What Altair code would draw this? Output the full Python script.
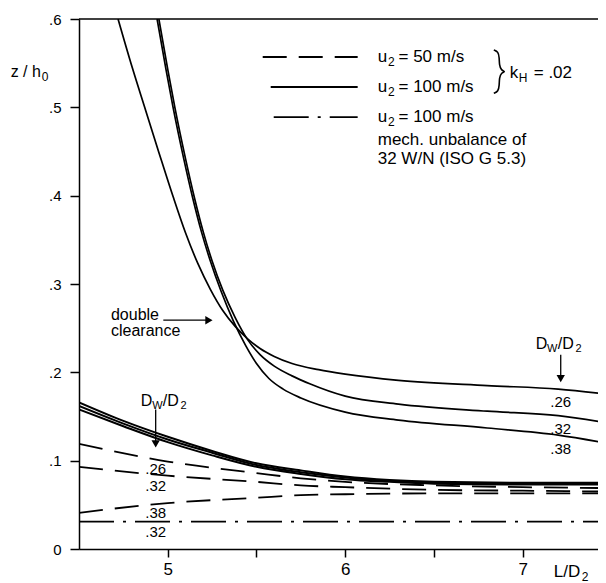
import altair as alt
import pandas as pd

FONT = "Liberation Sans"
X_MIN, X_MAX = 4.5, 7.424

# ---- upper solid curves (double clearance), D_W/D_2 = .26 / .32 / .38
up26_x = [4.72, 4.80, 4.87, 4.95, 5.03, 5.10, 5.17, 5.24, 5.31, 5.38, 5.45, 5.52, 5.60, 5.70, 5.85, 6.0, 6.3, 6.8, 7.2, 7.47]
up26_z = [0.600, 0.545, 0.500, 0.449, 0.399, 0.358, 0.323, 0.294, 0.270, 0.252, 0.238, 0.227, 0.218, 0.210, 0.203, 0.198, 0.191, 0.185, 0.181, 0.1755]
up32_x = [4.95, 5.00, 5.04, 5.10, 5.15, 5.20, 5.25, 5.31, 5.38, 5.45, 5.52, 5.60, 5.70, 5.80, 6.0, 6.3, 6.8, 7.2, 7.47]
up32_z = [0.600, 0.543, 0.500, 0.442, 0.398, 0.359, 0.326, 0.293, 0.262, 0.237, 0.220, 0.207, 0.196, 0.187, 0.173, 0.164, 0.156, 0.151, 0.143]
up38_x = [4.94, 4.99, 5.03, 5.09, 5.14, 5.19, 5.24, 5.30, 5.37, 5.44, 5.50, 5.57, 5.65, 5.75, 6.0, 6.3, 6.8, 7.2, 7.47]
up38_z = [0.600, 0.543, 0.500, 0.442, 0.398, 0.359, 0.326, 0.292, 0.258, 0.230, 0.210, 0.193, 0.181, 0.171, 0.155, 0.146, 0.137, 0.129, 0.120]

# ---- lower solid curves, u2 = 100 m/s
lo_x = [4.5, 4.75, 5.0, 5.25, 5.5, 5.75, 6.0, 6.25, 6.5, 7.0, 7.47]
lo26_z = [0.166, 0.145, 0.127, 0.111, 0.097, 0.089, 0.082, 0.078, 0.076, 0.075, 0.075]
lo32_z = [0.162, 0.142, 0.124, 0.109, 0.095, 0.087, 0.081, 0.077, 0.075, 0.074, 0.074]
lo38_z = [0.158, 0.139, 0.121, 0.106, 0.093, 0.085, 0.079, 0.076, 0.074, 0.073, 0.073]

# ---- dashed curves, u2 = 50 m/s
da_x = [4.5, 5.0, 5.5, 5.75, 6.0, 6.5, 7.0, 7.47]
da26_z = [0.119, 0.099, 0.086, 0.080, 0.076, 0.072, 0.070, 0.069]
da32_z = [0.093, 0.083, 0.076, 0.072, 0.070, 0.067, 0.066, 0.065]
da38_z = [0.041, 0.052, 0.058, 0.061, 0.062, 0.063, 0.063, 0.063]

# ---- dash-dot, mechanical unbalance
dd_x = [4.5, 7.47]
dd_z = [0.031, 0.031]

# ---- legend sample lines
leg_dash_x, leg_dash_z = [5.535, 6.07], [0.557, 0.557]
leg_solid_x, leg_solid_z = [5.58, 6.07], [0.523, 0.523]
leg_dd_x, leg_dd_z = [5.597, 6.07], [0.489, 0.489]

# ---- curly brace grouping the first two legend entries
brace_x = [6.837, 6.862, 6.868, 6.868, 6.878, 6.905, 6.878, 6.868, 6.868, 6.862, 6.837]
brace_z = [0.565, 0.563, 0.556, 0.548, 0.542, 0.5405, 0.539, 0.533, 0.525, 0.518, 0.516]

y_ticks = [0, 0.1, 0.2, 0.3, 0.4, 0.5, 0.6]
x_ticks = [5, 5.5, 6, 6.5, 7]

# ---- text annotations (data coordinates): x, z, text, size
txt_left = [
    (6.183, 0.557, "u", 17), (6.241, 0.551, "2", 12), (6.300, 0.557, "=  50 m/s", 17),
    (6.183, 0.523, "u", 17), (6.241, 0.517, "2", 12), (6.300, 0.523, "= 100 m/s", 17),
    (6.183, 0.489, "u", 17), (6.241, 0.483, "2", 12), (6.300, 0.489, "= 100 m/s", 17),
    (6.183, 0.463, "mech. unbalance of", 17),
    (6.183, 0.442, "32 W/N (ISO G 5.3)", 17),
    (6.927, 0.539, "k", 17), (6.977, 0.533, "H", 12), (7.062, 0.539, "= .02", 17),
    (4.115, 0.540, "z / h", 16), (4.290, 0.534, "0", 12),
    (7.175, -0.026, "L/D", 17), (7.333, -0.032, "2", 12),
    (4.68, 0.265, "double", 16), (4.68, 0.247, "clearance", 16),
    (4.848, 0.168, "D", 16), (4.912, 0.162, "W", 11), (4.972, 0.168, "/D", 16), (5.072, 0.162, "2", 11),
    (7.073, 0.232, "D", 16), (7.137, 0.226, "W", 11), (7.197, 0.232, "/D", 16), (7.297, 0.226, "2", 11),
]
txt_center = [
    (4.932, 0.091, ".26", 15), (4.932, 0.071, ".32", 15), (4.932, 0.041, ".38", 15), (4.932, 0.019, ".32", 15),
    (7.214, 0.166, ".26", 15), (7.214, 0.136, ".32", 15), (7.214, 0.113, ".38", 15),
]

# arrows: x, z_start, x2, z_end
arrow_v = [(4.932, 0.158, 4.932, 0.122), (7.214, 0.220, 7.214, 0.195)]
arrow_h = [(4.975, 0.259, 5.22, 0.259)]
head_down = [(4.932, 0.119), (7.214, 0.193)]
head_right = [(5.232, 0.259)]


def series(name, xs, zs):
    return pd.DataFrame({"x": xs, "z": zs, "s": name})


xs = alt.Scale(domain=[X_MIN, X_MAX], nice=False, zero=False)
ys = alt.Scale(domain=[0, 0.6], nice=False, zero=True)

x_enc = alt.X("x:Q", scale=xs, axis=alt.Axis(
    values=x_ticks, title=None, tickSize=8, labelPadding=4, labelFontSize=17,
    labelExpr="round(datum.value) == datum.value ? toString(datum.value) : ''"))
y_enc = alt.Y("z:Q", scale=ys, axis=alt.Axis(
    values=y_ticks, title=None, tickSize=9, labelPadding=9, labelFontSize=15,
    labelExpr="datum.value == 0 ? '0' : '.' + round(datum.value * 10)"))

solid_up = pd.concat([series("u26", up26_x, up26_z), series("u32", up32_x, up32_z),
                      series("u38", up38_x, up38_z)])
solid_lo = pd.concat([series("l26", lo_x, lo26_z), series("l32", lo_x, lo32_z),
                      series("l38", lo_x, lo38_z), series("leg", leg_solid_x, leg_solid_z)])
dashed = pd.concat([series("d26", da_x, da26_z), series("d32", da_x, da32_z),
                    series("d38", da_x, da38_z), series("leg", leg_dash_x, leg_dash_z)])
dashdot = pd.concat([series("dd", dd_x, dd_z), series("leg", leg_dd_x, leg_dd_z)])
brace_df = pd.DataFrame({"x": brace_x, "z": brace_z, "o": list(range(len(brace_x)))})

l_up = alt.Chart(solid_up).mark_line(color="black", strokeWidth=1.7, interpolate="monotone", clip=True).encode(
    x=x_enc, y=y_enc, detail="s:N")
l_lo = alt.Chart(solid_lo).mark_line(color="black", strokeWidth=2, interpolate="monotone", clip=True).encode(
    x="x:Q", y="z:Q", detail="s:N")
l_da = alt.Chart(dashed).mark_line(color="black", strokeWidth=1.8, strokeDash=[24, 12], interpolate="monotone", clip=True).encode(
    x="x:Q", y="z:Q", detail="s:N")
l_dd = alt.Chart(dashdot).mark_line(color="black", strokeWidth=1.8, strokeDash=[35, 9, 3, 9], clip=True).encode(
    x="x:Q", y="z:Q", detail="s:N")
l_brace = alt.Chart(brace_df).mark_line(color="black", strokeWidth=1.6, interpolate="basis").encode(
    x="x:Q", y="z:Q", order="o:Q")

top_rule = alt.Chart(pd.DataFrame({"z": [0.6]})).mark_rule(color="black", strokeWidth=1.5).encode(y="z:Q")


def tdf(rows):
    return pd.DataFrame(rows, columns=["x", "z", "t", "fs"])


t_left = alt.Chart(tdf(txt_left)).mark_text(align="left", baseline="middle", font=FONT, color="black").encode(
    x="x:Q", y="z:Q", text="t:N", size=alt.Size("fs:Q", scale=None, legend=None))
t_center = alt.Chart(tdf(txt_center)).mark_text(align="center", baseline="middle", font=FONT, color="black").encode(
    x="x:Q", y="z:Q", text="t:N", size=alt.Size("fs:Q", scale=None, legend=None))

arr_df = pd.DataFrame(arrow_v + arrow_h, columns=["x", "z", "x2", "z2"])
arrows = alt.Chart(arr_df).mark_rule(color="black", strokeWidth=1.3).encode(
    x="x:Q", y="z:Q", x2="x2:Q", y2="z2:Q")
hd = alt.Chart(pd.DataFrame(head_down, columns=["x", "z"])).mark_point(
    shape="triangle-down", filled=True, color="black", size=70, opacity=1).encode(x="x:Q", y="z:Q")
hr = alt.Chart(pd.DataFrame(head_right, columns=["x", "z"])).mark_point(
    shape="triangle-right", filled=True, color="black", size=70, opacity=1).encode(x="x:Q", y="z:Q")

chart = alt.layer(l_up, l_lo, l_da, l_dd, l_brace, top_rule, arrows, hd, hr, t_left, t_center).properties(
    width=519, height=530,
    autosize=alt.AutoSizeParams(type="none"),
    padding={"left": 71, "top": 11, "right": 0, "bottom": 34},
).configure_view(stroke=None).configure_axis(
    domainColor="black", domainWidth=1.5, tickColor="black", tickWidth=1.5,
    labelColor="black", labelFont=FONT, grid=False,
)

chart.save("out.html", embed_options={"renderer": "svg", "actions": False})
